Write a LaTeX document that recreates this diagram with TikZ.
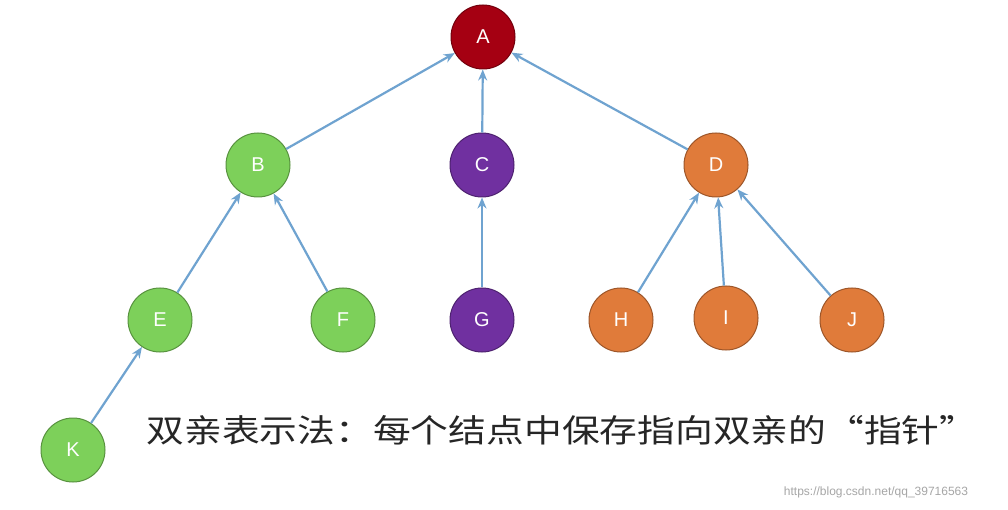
\documentclass[tikz,border=0pt]{standalone}
\usepackage{fontspec}
\setmainfont{Liberation Sans}
\newfontfamily\cjk{Noto Sans CJK SC}
\usetikzlibrary{arrows.meta}
\definecolor{gr}{HTML}{7DD05A}
\definecolor{pu}{HTML}{7030A0}
\definecolor{orx}{HTML}{E07B3A}
\definecolor{dr}{HTML}{A50012}
\definecolor{ar}{HTML}{6FA3D0}
\begin{document}
\begin{tikzpicture}[x=1pt,y=-1pt,
  nd/.style={circle,draw=#1!70!black,line width=1pt,fill=#1,minimum size=64pt,inner sep=0pt,text=white,font=\fontsize{20}{22}\selectfont},
  lk/.style={draw=ar,line width=2.2pt,-{Stealth[length=11pt,width=9pt]}}]
\useasboundingbox[fill=white] (0,0) rectangle (1008,510);
\node[nd=dr] (A) at (483,37) {A};
\node[nd=gr] (B) at (258,165) {B};
\node[nd=pu] (C) at (482,165) {C};
\node[nd=orx] (D) at (716,165) {D};
\node[nd=gr] (E) at (160,320) {E};
\node[nd=gr] (F) at (343,320) {F};
\node[nd=pu] (G) at (482,320) {G};
\node[nd=orx] (H) at (621,320) {H};
\node[nd=orx] (I) at (726,318) {I};
\node[nd=orx] (J) at (852,320) {J};
\node[nd=gr] (K) at (73,450) {K};
\foreach \c/\p in {B/A,C/A,D/A,E/B,F/B,G/C,H/D,I/D,J/D,K/E}
  \draw[lk] (\c) -- (\p);
\node[font=\cjk\fontsize{32}{34}\selectfont,text=black!85] (t) at (562,430) {\scalebox{1.18}[1]{双亲表示法：每个结点中保存指向双亲的“指针”}};
\node[font=\fontsize{12}{14}\selectfont,text=black!35] (w) at (876,492) {https://blog.csdn.net/qq\_39716563};
\end{tikzpicture}
\end{document}
